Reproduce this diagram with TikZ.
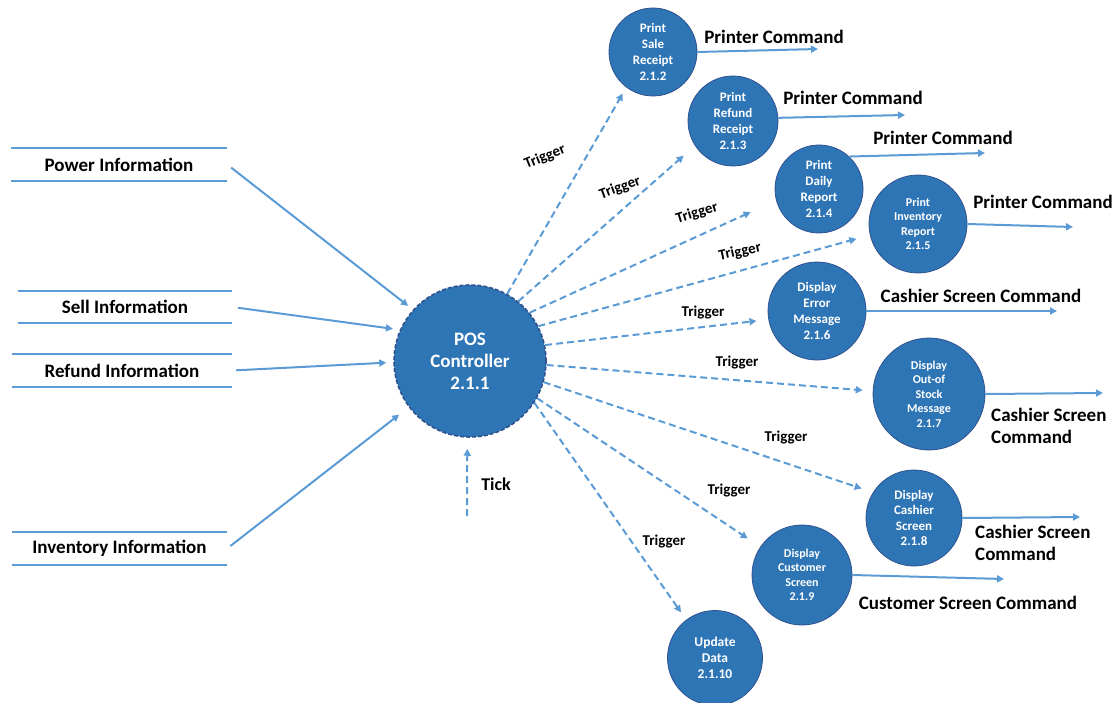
\documentclass[tikz,border=0pt]{standalone}
\usepackage{fontspec}
\setmainfont{Carlito}
\usetikzlibrary{arrows.meta}
\definecolor{cfill}{HTML}{2E75B6}
\definecolor{cedge}{HTML}{2F528F}
\definecolor{lblue}{HTML}{5B9BD5}
\tikzset{
  proc/.style={circle, fill=cfill, draw=cedge, line width=0.8pt, text=white, align=center, inner sep=0pt, minimum size=#1},
  pf/.style={font=\bfseries\fontsize{13}{16}\selectfont},
  pfs/.style={font=\bfseries\fontsize{12}{14.5}\selectfont},
  flow/.style={draw=lblue, line width=2pt, -{Triangle[length=7pt,width=7pt]}},
  trig/.style={flow, dash pattern=on 7pt off 4pt},
  sline/.style={draw=lblue, line width=2.2pt},
  store/.style={font=\bfseries\fontsize{19}{22}\selectfont, inner sep=0pt},
  lbl/.style={font=\bfseries\fontsize{19}{22}\selectfont, inner sep=0pt, align=left},
  tlbl/.style={font=\bfseries\fontsize{15}{18}\selectfont, inner sep=0pt},
}
\begin{document}
\begin{tikzpicture}[x=1pt,y=-1pt]
\useasboundingbox (0,0) rectangle (1115,703);
% central process
\node[circle, fill=cfill, draw=cedge, line width=1.6pt, dash pattern=on 4pt off 2pt, minimum size=152, inner sep=0pt, text=white, align=center, font=\bfseries\fontsize{19}{22}\selectfont] (c) at (470,361) {POS\\Controller\\2.1.1};
% sub processes
\node[proc=88, pf] (n2) at (653,52) {Print\\Sale\\Receipt\\2.1.2};
\node[proc=90, pf] (n3) at (733,121) {Print\\Refund\\Receipt\\2.1.3};
\node[proc=88, pf] (n4) at (819,189) {Print\\Daily\\Report\\2.1.4};
\node[proc=98, pfs] (n5) at (918,224) {Print\\Inventory\\Report\\2.1.5};
\node[proc=98, pf] (n6) at (817,311) {Display\\Error\\Message\\2.1.6};
\node[proc=112, pfs] (n7) at (929,394) {Display\\Out-of\\Stock\\Message\\2.1.7};
\node[proc=96, pf, font=\bfseries\fontsize{13}{15.5}\selectfont] (n8) at (914,518) {Display\\Cashier\\Screen\\2.1.8};
\node[proc=100, pfs] (n9) at (802,575) {Display\\Customer\\Screen\\2.1.9};
\node[proc=95, pf, font=\bfseries\fontsize{13.5}{16}\selectfont] (n10) at (715,658) {Update\\Data\\2.1.10};
% stores
\node[store, minimum width=216, minimum height=33] (p) at (119,164.5) {Power Information};
\node[store, minimum width=214, minimum height=32] (s) at (125,307) {Sell Information};
\node[store, minimum width=220, minimum height=33] (r) at (122,370.5) {Refund Information};
\node[store, minimum width=215, minimum height=33] (i) at (119.5,548.5) {Inventory Information};
\foreach \n in {p,s,r,i}{
  \draw[sline] (\n.north west) -- (\n.north east) (\n.south west) -- (\n.south east);
}
% inputs
\draw[flow, shorten <=5pt, shorten >=6pt] (p.east) -- (c.138);
\draw[flow, shorten <=6pt, shorten >=7pt] (s.east) -- (c.156);
\draw[flow, shorten <=4pt, shorten >=7pt] (r.east) -- (c.181);
\draw[flow, shorten <=4pt, shorten >=12pt] (i.east) -- (c.217);
% tick
\coordinate (tk) at (467,516);
\draw[trig, shorten >=11pt] (tk) -- (c.-92);
\node[tlbl, font=\bfseries\fontsize{18}{20}\selectfont] (ticklbl) at (496,484) {Tick};
% triggers
\draw[trig, shorten >=7pt] (c.61) -- (n2.233);
\draw[trig, shorten >=15pt] (c.51) -- (n3.213);
\draw[trig, shorten >=28pt] (c.39) -- (n4.195);
\draw[trig, shorten >=14pt] (c.27) -- (n5.193);
\draw[trig, shorten >=12pt] (c.12) -- (n6.190);
\draw[trig, shorten >=10pt] (c.-3) -- (n7.177);
\draw[trig, shorten >=12pt] (c.-16) -- (n8.148);
\draw[trig, shorten >=15pt] (c.-29) -- (n9.146);
\draw[trig, shorten >=9pt] (c.-33) -- (n10.127);
\node[tlbl, rotate=22] (t1) at (545,157) {Trigger};
\node[tlbl, rotate=20] (t2) at (620,188) {Trigger};
\node[tlbl, rotate=17] (t3) at (697,213) {Trigger};
\node[tlbl, rotate=12] (t4) at (740,252) {Trigger};
\node[tlbl] (t5) at (703,313) {Trigger};
\node[tlbl] (t6) at (737,363) {Trigger};
\node[tlbl] (t7) at (786,438) {Trigger};
\node[tlbl] (t8) at (729,491) {Trigger};
\node[tlbl] (t9) at (664,542) {Trigger};
% outputs
\coordinate (o2) at (818,49);
\coordinate (o3) at (905,115);
\coordinate (o4) at (985,153);
\coordinate (o5) at (1073,227);
\coordinate (o6) at (1057,311);
\coordinate (o7) at (1103,393);
\coordinate (o8) at (1080,517);
\coordinate (o9) at (1004,579);
\draw[flow] (n2.east) -- (o2);
\draw[flow] (n3.4) -- (o3);
\draw[flow] (n4.47) -- (o4);
\draw[flow] (n5.east) -- (o5);
\draw[flow] (n6.east) -- (o6);
\draw[flow] (n7.east) -- (o7);
\draw[flow] (n8.east) -- (o8);
\draw[flow] (n9.east) -- (o9);
\node[lbl] (l2) at (774,37) {Printer Command};
\node[lbl] (l3) at (853,98) {Printer Command};
\node[lbl] (l4) at (943,138) {Printer Command};
\node[lbl] (l5) at (1043,202) {Printer Command};
\node[lbl] (l6) at (981,296) {Cashier Screen Command};
\node[lbl, anchor=west] (l7) at (991,426) {Cashier Screen\\Command};
\node[lbl, anchor=west] (l8) at (975,543) {Cashier Screen\\Command};
\node[lbl] (l9) at (968,603) {Customer Screen Command};
\end{tikzpicture}
\end{document}
